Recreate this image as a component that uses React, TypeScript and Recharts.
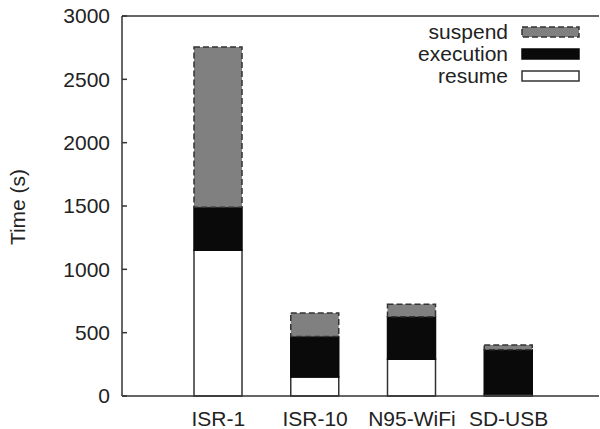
import { BarChart, Bar, XAxis, YAxis, ReferenceLine } from 'recharts';

// nilai dibaca dari gambar referensi (detik)
const categories = ['ISR-1', 'ISR-10', 'N95-WiFi', 'SD-USB'];
const resume = [1150, 150, 290, 15];
const execution = [340, 320, 335, 350];
const suspend = [1265, 185, 100, 37];
const yTicks = [0, 500, 1000, 1500, 2000, 2500, 3000];

const FONT = '"Liberation Sans", Arial, sans-serif';
const AXIS = '#333';

const data = categories.map((name, i) => ({
    name,
    resume: resume[i],
    execution: execution[i],
    suspend: suspend[i],
}));

interface SeriesStyle {
    key: string;
    fill: string;
    stroke: string;
    dash?: string;
}

const series: SeriesStyle[] = [
    { key: 'resume', fill: '#ffffff', stroke: '#333' },
    { key: 'execution', fill: '#0a0a0a', stroke: '#0a0a0a' },
    { key: 'suspend', fill: '#808080', stroke: '#333', dash: '6 3' },
];

// legenda gaya gnuplot, digambar di atas chart supaya tidak menggeser area plot
const GnuLegend = () => {
    const rows = [...series].reverse();
    return (
        <svg width={600} height={100} style={{ position: 'absolute', left: 0, top: 0, pointerEvents: 'none' }}>
            {rows.map((s, i) => {
                const cy = 32 + i * 22;
                return (
                    <g key={s.key}>
                        <text x={508} y={cy + 7} textAnchor="end" fontFamily={FONT} fontSize={21} fill="#222">
                            {s.key}
                        </text>
                        <rect x={522} y={cy - 5} width={57} height={10} fill={s.fill} stroke={s.stroke}
                            strokeWidth={1.5} strokeDasharray={s.dash} />
                    </g>
                );
            })}
        </svg>
    );
};

export default function App() {
    return (
        <div style={{ position: 'absolute', left: 0, top: 0, width: 600, height: 429, background: '#fff' }}>
            <BarChart width={600} height={429} data={data} margin={{ top: 16, right: 0, bottom: 3, left: 0 }}>
                <XAxis
                    dataKey="name"
                    tickLine={false}
                    tickMargin={9}
                    padding={{ left: 48, right: 42 }}
                    stroke={AXIS}
                    strokeWidth={1.5}
                    tick={{ fontSize: 21, fontFamily: FONT, fill: '#222' }}
                />
                <YAxis
                    width={122}
                    domain={[0, 3000]}
                    ticks={yTicks}
                    tickSize={-5}
                    tickMargin={17}
                    stroke={AXIS}
                    strokeWidth={1.5}
                    tick={{ fontSize: 21, fontFamily: FONT, fill: '#222' }}
                    label={{
                        content: () => (
                            <text x={25} y={207} transform="rotate(-90 25 207)" textAnchor="middle"
                                fontFamily={FONT} fontSize={21} fill="#222">Time (s)</text>
                        ),
                    }}
                />
                <YAxis
                    yAxisId="right"
                    orientation="right"
                    width={1}
                    domain={[0, 3000]}
                    ticks={yTicks}
                    tickSize={-4}
                    tick={{ fontSize: 1, fill: 'none' }}
                    axisLine={false}
                    stroke={AXIS}
                    strokeWidth={1.5}
                />
                <ReferenceLine y={3000} stroke={AXIS} strokeWidth={1.5} />
                {series.map(s => (
                    <Bar
                        key={s.key}
                        dataKey={s.key}
                        stackId="t"
                        barSize={48}
                        fill={s.fill}
                        stroke={s.stroke}
                        strokeWidth={1.5}
                        strokeDasharray={s.dash}
                        isAnimationActive={false}
                    />
                ))}
            </BarChart>
            <GnuLegend />
        </div>
    );
}
